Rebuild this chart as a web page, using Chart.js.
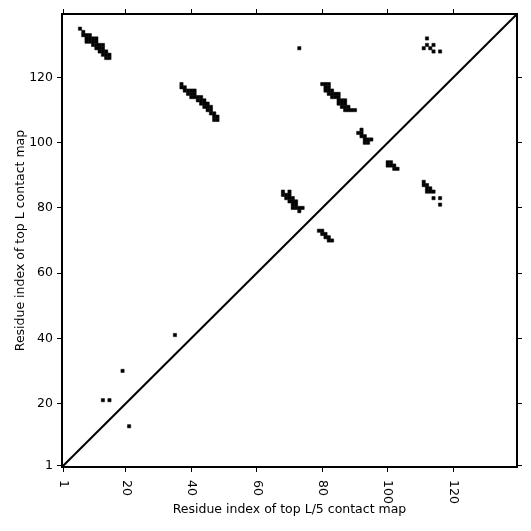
<!DOCTYPE html>
<html lang="en">
  <head>
    <meta charset="UTF-8" />
    <title>Contact map comparison</title>
    <script src="https://cdn.jsdelivr.net/npm/chart.js"></script>
    <style>
      html, body { margin: 0; padding: 0; background: #fff; }
      .chart-container { position: relative; width: 531px; height: 531px; }
    </style>
  </head>
  <body>
    <div class="chart-container">
      <canvas id="contactChart" width="531" height="531"></canvas>
    </div>
    <script>
      // sequence length 139, cells centred on residue numbers
      const axisMin = 0.5;
      const axisMax = 139.5;
      const tickValues = [1, 20, 40, 60, 80, 100, 120];
      const xTitle = "Residue index of top L/5 contact map";
      const yTitle = "Residue index of top L contact map";

      // contacts as [residue i, residue j]
      const strandA = [
        [6, 135], [7, 134],
        [7, 133], [8, 133], [9, 133],
        [8, 132], [9, 132], [10, 132], [11, 132],
        [8, 131], [9, 131], [10, 131], [11, 131],
        [10, 130], [11, 130], [12, 130], [13, 130],
        [11, 129], [12, 129], [13, 129],
        [12, 128], [13, 128], [14, 128],
        [13, 127], [14, 127], [15, 127],
        [14, 126], [15, 126]
      ];
      const strandB = [
        [37, 118], [37, 117], [38, 117],
        [38, 116], [39, 116], [40, 116], [41, 116],
        [39, 115], [40, 115], [41, 115],
        [40, 114], [41, 114], [42, 114], [43, 114],
        [42, 113], [43, 113], [44, 113],
        [43, 112], [44, 112], [45, 112],
        [44, 111], [45, 111], [46, 111],
        [45, 110], [46, 110],
        [46, 109], [47, 109],
        [47, 108], [48, 108], [47, 107], [48, 107]
      ];
      const strandC = [
        [68, 85], [70, 85],
        [68, 84], [69, 84], [70, 84],
        [69, 83], [70, 83], [71, 83],
        [70, 82], [71, 82], [72, 82],
        [71, 81], [72, 81],
        [71, 80], [72, 80], [73, 80], [74, 80],
        [73, 79]
      ];
      const strandD = [
        [79, 73], [80, 73], [80, 72], [81, 72], [81, 71], [82, 71], [82, 70], [83, 70]
      ];
      const strandE = [
        [80, 118], [81, 118], [82, 118],
        [81, 117], [82, 117],
        [81, 116], [82, 116], [83, 116],
        [82, 115], [83, 115], [84, 115], [85, 115],
        [83, 114], [84, 114], [85, 114],
        [85, 113], [86, 113], [87, 113],
        [85, 112], [86, 112], [87, 112],
        [86, 111], [87, 111], [88, 111],
        [87, 110], [88, 110], [89, 110], [90, 110]
      ];
      const strandF = [
        [100, 94], [101, 94], [100, 93], [101, 93], [102, 93], [102, 92], [103, 92]
      ];
      const strandG = [
        [92, 104], [91, 103], [92, 103], [92, 102], [93, 102],
        [93, 101], [94, 101], [95, 101], [93, 100], [94, 100]
      ];
      const strandH = [
        [111, 88], [111, 87], [112, 87], [112, 86], [113, 86],
        [112, 85], [113, 85], [114, 85],
        [114, 83], [116, 83], [116, 81]
      ];
      const strandI = [
        [112, 132], [111, 129], [112, 130], [113, 129], [114, 130], [114, 128], [116, 128]
      ];
      const isolated = [
        [73, 129], [35, 41], [19, 30], [13, 21], [15, 21], [21, 13]
      ];

      const allContacts = [].concat(
        strandA, strandB, strandC, strandD, strandE,
        strandF, strandG, strandH, strandI, isolated
      );
      const contactPoints = allContacts.map(([i, j]) => ({ x: i, y: j }));
      const diagonal = [{ x: axisMin, y: axisMin }, { x: axisMax, y: axisMax }];

      const fontFamily = '"DejaVu Sans", sans-serif';
      const fontSize = 12.5;

      function cellRadius(ctx) {
        const sx = ctx.chart.scales.x;
        const cell = Math.abs(sx.getPixelForValue(1) - sx.getPixelForValue(0));
        return cell / Math.SQRT2;
      }

      function fixedTicks(scale) {
        scale.ticks = tickValues.map((v) => ({ value: v }));
      }

      const tickGrid = {
        drawOnChartArea: false,
        drawTicks: true,
        tickLength: 5,
        tickColor: "#000",
        tickWidth: 1,
      };
      const frame = { display: true, color: "#000", width: 2 };

      // x tick labels read top to bottom, so draw them ourselves
      const bottomAxisText = {
        id: "bottomAxisText",
        afterDraw(chart) {
          const ctx = chart.ctx;
          const sx = chart.scales.x;
          const area = chart.chartArea;
          ctx.save();
          ctx.fillStyle = "#000";
          ctx.font = fontSize + "px " + fontFamily;
          tickValues.forEach((v) => {
            ctx.save();
            ctx.translate(sx.getPixelForValue(v), area.bottom + 13);
            ctx.rotate(Math.PI / 2);
            ctx.textAlign = "left";
            ctx.textBaseline = "middle";
            ctx.fillText(String(v), 0, 0);
            ctx.restore();
          });
          ctx.textAlign = "center";
          ctx.textBaseline = "middle";
          ctx.fillText(xTitle, (area.left + area.right) / 2, area.bottom + 43);
          ctx.restore();
        },
      };

      new Chart(document.getElementById("contactChart"), {
        type: "scatter",
        data: {
          datasets: [
            {
              type: "line",
              data: diagonal,
              borderColor: "#000",
              borderWidth: 2,
              pointRadius: 0,
              fill: false,
            },
            {
              data: contactPoints,
              pointStyle: "rect",
              pointRadius: cellRadius,
              pointBackgroundColor: "#000",
              pointBorderColor: "#000",
              pointBorderWidth: 0.5,
            },
          ],
        },
        options: {
          responsive: false,
          animation: false,
          layout: { padding: 0 },
          plugins: {
            legend: { display: false },
            tooltip: { enabled: false },
          },
          scales: {
            x: {
              type: "linear",
              position: "bottom",
              min: axisMin,
              max: axisMax,
              afterBuildTicks: fixedTicks,
              afterFit: (s) => { s.height = 64; },
              ticks: { display: false },
              grid: tickGrid,
              border: frame,
            },
            x2: {
              type: "linear",
              axis: "x",
              position: "top",
              min: axisMin,
              max: axisMax,
              afterBuildTicks: fixedTicks,
              afterFit: (s) => { s.height = 14; },
              ticks: { display: false },
              grid: tickGrid,
              border: frame,
            },
            y: {
              type: "linear",
              position: "left",
              min: axisMin,
              max: axisMax,
              afterBuildTicks: fixedTicks,
              afterFit: (s) => { s.width = 62; },
              ticks: {
                color: "#000",
                padding: 4,
                autoSkip: false,
                font: { family: fontFamily, size: fontSize },
              },
              title: {
                display: true,
                text: yTitle,
                color: "#000",
                padding: { top: 13, bottom: 0 },
                font: { family: fontFamily, size: fontSize },
              },
              grid: tickGrid,
              border: frame,
            },
            y2: {
              type: "linear",
              axis: "y",
              position: "right",
              min: axisMin,
              max: axisMax,
              afterBuildTicks: fixedTicks,
              afterFit: (s) => { s.width = 14; },
              ticks: { display: false },
              grid: tickGrid,
              border: frame,
            },
          },
        },
        plugins: [bottomAxisText],
      });
    </script>
  </body>
</html>
